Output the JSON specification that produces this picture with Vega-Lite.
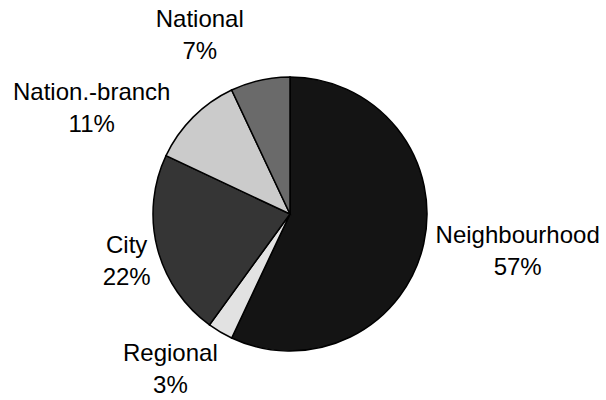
{
  "$schema": "https://vega.github.io/schema/vega-lite/v6.json",
  "autosize": {"type": "none"},
  "padding": {"left": 0, "top": 28, "right": 26, "bottom": 0},
  "width": 580,
  "height": 372,
  "background": "white",
  "view": {"stroke": null},
  "data": {
    "values": [
      {"category": "Neighbourhood", "share": 0.57, "order": 1},
      {"category": "Regional", "share": 0.03, "order": 2},
      {"category": "City", "share": 0.22, "order": 3},
      {"category": "Nation.-branch", "share": 0.11, "order": 4},
      {"category": "National", "share": 0.07, "order": 5}
    ]
  },
  "encoding": {
    "theta": {"field": "share", "type": "quantitative", "stack": true},
    "order": {"field": "order", "type": "quantitative"}
  },
  "layer": [
    {
      "mark": {"type": "arc", "outerRadius": 137, "stroke": "black", "strokeWidth": 1.5},
      "encoding": {
        "color": {
          "field": "category",
          "type": "nominal",
          "scale": {
            "domain": ["Neighbourhood", "Regional", "City", "Nation.-branch", "National"],
            "range": ["#141414", "#e2e2e2", "#353535", "#cbcbcb", "#6a6a6a"]
          },
          "legend": null
        }
      }
    },
    {
      "mark": {
        "type": "text",
        "radius": 180,
        "font": "Liberation Sans",
        "fontSize": 24,
        "color": "black",
        "align": "center",
        "baseline": "middle",
        "dx": {"expr": "{'Neighbourhood': 52, 'Regional': -28, 'City': 11, 'Nation.-branch': -71, 'National': -51}[datum.category]"},
        "dy": {"expr": "{'Neighbourhood': -1, 'Regional': 1, 'City': 3, 'Nation.-branch': 22, 'National': -2}[datum.category] - 16"}
      },
      "encoding": {"text": {"field": "category", "type": "nominal"}}
    },
    {
      "mark": {
        "type": "text",
        "radius": 180,
        "font": "Liberation Sans",
        "fontSize": 24,
        "color": "black",
        "align": "center",
        "baseline": "middle",
        "dx": {"expr": "{'Neighbourhood': 52, 'Regional': -28, 'City': 11, 'Nation.-branch': -71, 'National': -51}[datum.category]"},
        "dy": {"expr": "{'Neighbourhood': -1, 'Regional': 1, 'City': 3, 'Nation.-branch': 22, 'National': -2}[datum.category] + 16"}
      },
      "encoding": {"text": {"field": "share", "type": "quantitative", "format": ".0%"}}
    }
  ]
}
